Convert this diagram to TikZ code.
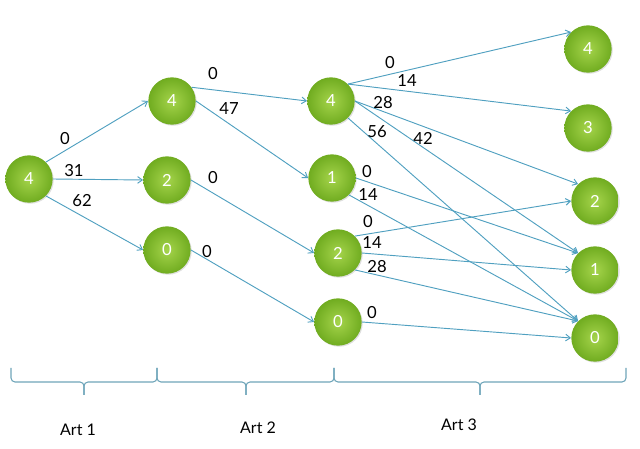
\documentclass[tikz,border=0pt]{standalone}
\usepackage{fontspec}
\setmainfont{Lato}
\usetikzlibrary{arrows.meta,shadows}
\definecolor{edgec}{RGB}{80,160,192}
\definecolor{bracec}{RGB}{110,165,185}
\definecolor{gin}{RGB}{165,212,75}
\definecolor{gout}{RGB}{112,172,32}
\tikzset{
  st/.style={circle,minimum size=35.5pt,inner sep=0pt,inner color=gin,outer color=gout,
    text=white,font=\fontsize{12.5}{13}\selectfont,
    drop shadow={shadow xshift=0.8pt,shadow yshift=-0.8pt,opacity=0.25}},
  arc/.style={draw=edgec,line width=0.7pt,-{Straight Barb[length=3.5pt,width=5pt]}},
  lbl/.style={font=\fontsize{12.5}{13}\selectfont,inner sep=0pt},
  brc/.style={draw=bracec,line width=0.8pt,rounded corners=3pt},
  art/.style={font=\fontsize{12}{13}\selectfont,inner sep=0pt}
}
\begin{document}
\begin{tikzpicture}[x=0.75pt,y=-0.75pt]
\useasboundingbox (0,0) rectangle (640,449);
% nodes
\node[st] (A) at (29,179) {4};
\node[st] (B1) at (172,101) {4};
\node[st] (B2) at (167,180) {2};
\node[st] (B3) at (167,250) {0};
\node[st] (C1) at (331,101) {4};
\node[st] (C2) at (332,178) {1};
\node[st] (C3) at (338,253) {2};
\node[st] (C4) at (338,322) {0};
\node[st] (D4) at (588,49) {4};
\node[st] (D3) at (588,128) {3};
\node[st] (D2) at (595,201) {2};
\node[st] (D1) at (595,270) {1};
\node[st] (D0) at (595,338) {0};
% edges
\draw[arc] (A.north east) -- (B1.west);
\draw[arc] (A.east) -- (B2.west);
\draw[arc] (A.south east) -- (B3.west);
\draw[arc] (B1.35) -- (C1.west);
\draw[arc] (B1.east) -- (C2.west);
\draw[arc] (B2.east) -- (C3.west);
\draw[arc] (B3.east) -- (C4.west);
\draw[arc] (C1.north east) -- (D4.north west);
\draw[arc] (C1.north east) -- (D3.north west);
\draw[arc] (C1.east) -- (D2.north west);
\draw[arc] (C1.east) -- (D1.north west);
\draw[arc] (C1.south east) -- (D0.north west);
\draw[arc] (C2.east) -- (D1.north west);
\draw[arc] (C2.south east) -- (D0.north west);
\draw[arc] (C3.north east) -- (D2.west);
\draw[arc] (C3.east) -- (D1.west);
\draw[arc] (C3.south east) -- (D0.north west);
\draw[arc] (C4.east) -- (D0.west);
% labels
\node[lbl] (l1) at (65,139) {0};
\node[lbl] (l2) at (74,171) {31};
\node[lbl] (l3) at (82,201) {62};
\node[lbl] (l4) at (213,74) {0};
\node[lbl] (l5) at (229,109) {47};
\node[lbl] (l6) at (213,178) {0};
\node[lbl] (l7) at (207,252) {0};
\node[lbl] (l8) at (390,63) {0};
\node[lbl] (l9) at (407,81) {14};
\node[lbl] (l10) at (383,103) {28};
\node[lbl] (l11) at (377,132) {56};
\node[lbl] (l12) at (423,138) {42};
\node[lbl] (l13) at (367,172) {0};
\node[lbl] (l14) at (368,195) {14};
\node[lbl] (l15) at (368,222) {0};
\node[lbl] (l16) at (372,243) {14};
\node[lbl] (l17) at (377,267) {28};
\node[lbl] (l18) at (372,313) {0};
% braces
\draw[brc] (11,368) -- (11,382) -- (84,382) -- (84,395);
\draw[brc] (84,395) -- (84,382) -- (157,382) -- (157,368);
\draw[brc] (157,368) -- (157,382) -- (246,382) -- (246,395);
\draw[brc] (246,395) -- (246,382) -- (334,382) -- (334,368);
\draw[brc] (334,368) -- (334,382) -- (480,382) -- (480,395);
\draw[brc] (480,395) -- (480,382) -- (626,382) -- (626,368);
\node[art] (t1) at (78,430) {Art 1};
\node[art] (t2) at (258,428) {Art 2};
\node[art] (t3) at (459,425) {Art 3};
\end{tikzpicture}
\end{document}
